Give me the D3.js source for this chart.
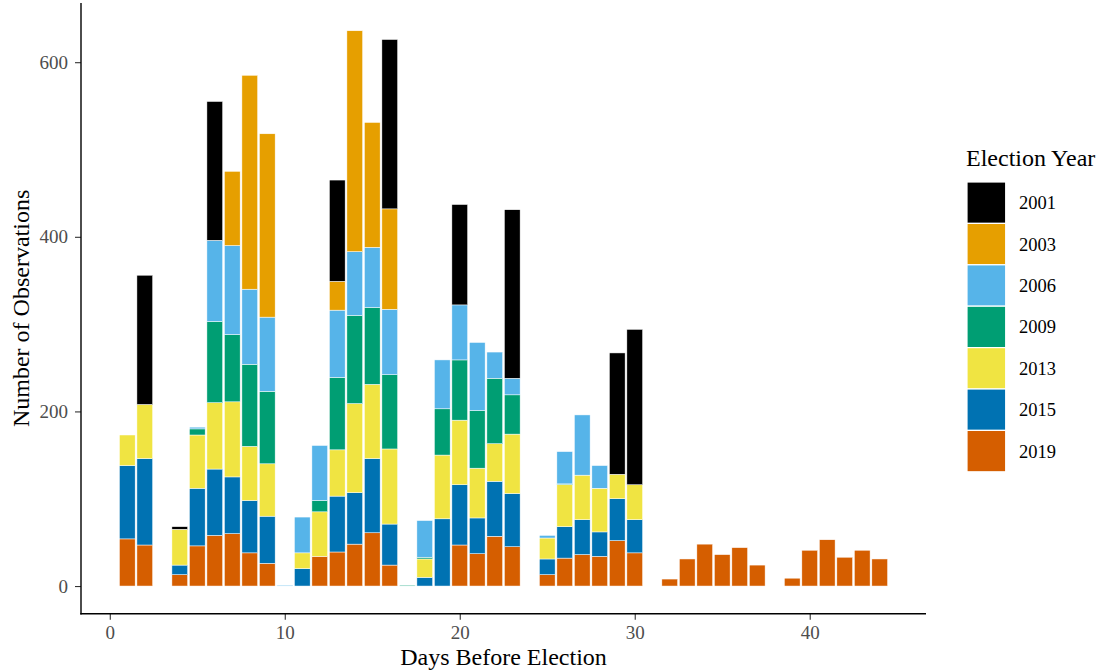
<!DOCTYPE html>
<html>
<head>
<meta charset="utf-8">
<script src="https://cdn.jsdelivr.net/npm/d3@7"></script>
<style>
  body { margin: 0; background: #fff; }
  text { font-family: "Liberation Serif", "Times New Roman", serif; }
</style>
</head>
<body>
<svg id="chart" width="1099" height="670"></svg>
<script>
// Days before election that have observations
const days = [1, 2, 4, 5, 6, 7, 8, 9, 10, 11, 12, 13, 14, 15, 16, 17, 18, 19, 20, 21, 22, 23,
              25, 26, 27, 28, 29, 30, 32, 33, 34, 35, 36, 37, 39, 40, 41, 42, 43, 44];

// Counts per election year, aligned with days
const y2019 = [54, 47, 13, 46, 58, 60, 38, 26, 0, 0, 34, 39, 48, 61, 24, 0, 0, 0, 47, 37, 57, 45,
               13, 32, 36, 34, 52, 38, 8, 31, 48, 36, 44, 24, 9, 41, 53, 33, 41, 31];
const y2015 = [84, 99, 11, 66, 76, 65, 60, 54, 0, 20, 0, 64, 59, 85, 47, 0, 10, 77, 69, 41, 63, 61,
               18, 36, 40, 28, 48, 38, 0, 0, 0, 0, 0, 0, 0, 0, 0, 0, 0, 0];
const y2013 = [35, 62, 41, 61, 76, 86, 62, 60, 0, 18, 51, 53, 102, 85, 86, 0, 21, 73, 74, 57, 43, 68,
               24, 48, 51, 50, 28, 40, 0, 0, 0, 0, 0, 0, 0, 0, 0, 0, 0, 0];
const y2009 = [0, 0, 0, 7, 93, 77, 94, 83, 0, 0, 13, 83, 101, 88, 85, 1, 2, 53, 69, 66, 75, 45,
               0, 1, 0, 0, 0, 0, 0, 0, 0, 0, 0, 0, 0, 0, 0, 0, 0, 0];
const y2006 = [0, 0, 0, 2, 93, 102, 86, 85, 1, 41, 63, 77, 73, 69, 75, 0, 42, 56, 63, 78, 30, 19,
               3, 37, 69, 26, 0, 0, 0, 0, 0, 0, 0, 0, 0, 0, 0, 0, 0, 0];
const y2003 = [0, 0, 0, 0, 0, 85, 245, 210, 0, 0, 0, 33, 253, 143, 115, 0, 0, 0, 0, 0, 0, 0,
               0, 0, 0, 0, 0, 0, 0, 0, 0, 0, 0, 0, 0, 0, 0, 0, 0, 0];
const y2001 = [0, 148, 3, 0, 159, 0, 0, 0, 0, 0, 0, 116, 0, 0, 194, 0, 0, 0, 115, 0, 0, 193,
               0, 0, 0, 0, 139, 178, 0, 0, 0, 0, 0, 0, 0, 0, 0, 0, 0, 0];

// Stack order bottom -> top, and legend order top -> bottom
const years = ['2019', '2015', '2013', '2009', '2006', '2003', '2001'];
const legendYears = ['2001', '2003', '2006', '2009', '2013', '2015', '2019'];
const colors = ['#D55E00', '#0072B2', '#F0E442', '#009E73', '#56B4E9', '#E69F00', '#000000'];
const xTicks = [0, 10, 20, 30, 40];
const yTicks = [0, 200, 400, 600];

const seriesByYear = { '2019': y2019, '2015': y2015, '2013': y2013, '2009': y2009,
                       '2006': y2006, '2003': y2003, '2001': y2001 };

const table = days.map((d, i) => {
    const row = { day: d };
    years.forEach(y => { row[y] = seriesByYear[y][i]; });
    return row;
});

const svg = d3.select('#chart');
const plot = { left: 81, right: 926, top: 3, bottom: 613.8 };

const stacked = d3.stack().keys(years)(table);
const maxTotal = d3.max(table, r => d3.sum(years, y => r[y]));

// ggplot-like 5% expansion
const xMin = 0.55, xMax = 44.45;
const xPad = (xMax - xMin) * 0.05;
const x = d3.scaleLinear().domain([xMin - xPad, xMax + xPad]).range([plot.left, plot.right]);
const y = d3.scaleLinear().domain([-maxTotal * 0.05, maxTotal * 1.05]).range([plot.bottom, plot.top]);

const color = d3.scaleOrdinal().domain(years).range(colors);
const barW = x(0.9) - x(0);

// Bars
const layers = svg.append('g')
    .selectAll('g')
    .data(stacked)
    .enter()
    .append('g')
    .attr('fill', d => color(d.key));

layers.selectAll('rect')
    .data(d => d.filter(s => s[1] - s[0] > 0))
    .enter()
    .append('rect')
    .attr('x', d => x(d.data.day) - barW / 2)
    .attr('width', barW)
    .attr('y', d => y(d[1]))
    .attr('height', d => y(d[0]) - y(d[1]))
    .attr('stroke', 'white')
    .attr('stroke-width', 0.5);

// Axes
const xAxis = d3.axisBottom(x).tickValues(xTicks).tickSize(6).tickPadding(6);
const yAxis = d3.axisLeft(y).tickValues(yTicks).tickSize(6).tickPadding(7);

const gx = svg.append('g')
    .attr('transform', `translate(0,${plot.bottom})`)
    .call(xAxis);
const gy = svg.append('g')
    .attr('transform', `translate(${plot.left},0)`)
    .call(yAxis);

[gx, gy].forEach(g => {
    g.select('.domain').remove();
    g.selectAll('.tick line').attr('stroke', '#333').attr('stroke-width', 1.1);
    g.selectAll('.tick text')
        .style('font-family', '"Liberation Serif", serif')
        .style('font-size', '19px')
        .attr('fill', '#4D4D4D');
});

// Axis lines
svg.append('line')
    .attr('x1', plot.left).attr('x2', plot.left)
    .attr('y1', plot.top).attr('y2', plot.bottom + 0.7)
    .attr('stroke', 'black').attr('stroke-width', 1.4);
svg.append('line')
    .attr('x1', plot.left - 0.7).attr('x2', plot.right)
    .attr('y1', plot.bottom).attr('y2', plot.bottom)
    .attr('stroke', 'black').attr('stroke-width', 1.4);

// Axis titles
svg.append('text')
    .attr('x', (plot.left + plot.right) / 2)
    .attr('y', 665)
    .attr('text-anchor', 'middle')
    .style('font-size', '24px')
    .text('Days Before Election');

svg.append('text')
    .attr('transform', `translate(29,${(plot.top + plot.bottom) / 2}) rotate(-90)`)
    .attr('text-anchor', 'middle')
    .style('font-size', '24px')
    .text('Number of Observations');

// Legend
const legend = svg.append('g').attr('transform', 'translate(967,182)');
legend.append('text')
    .attr('x', -1)
    .attr('y', -16)
    .style('font-size', '24px')
    .text('Election Year');

legendYears.forEach((yr, i) => {
    const item = legend.append('g').attr('transform', `translate(0,${i * 41.4})`);
    item.append('rect')
        .attr('width', 38.7)
        .attr('height', 41.4)
        .attr('fill', color(yr))
        .attr('stroke', 'white')
        .attr('stroke-width', 1.2);
    item.append('text')
        .attr('x', 52)
        .attr('y', 20.7)
        .attr('dy', '0.35em')
        .style('font-size', '18.5px')
        .text(yr);
});
</script>
</body>
</html>
